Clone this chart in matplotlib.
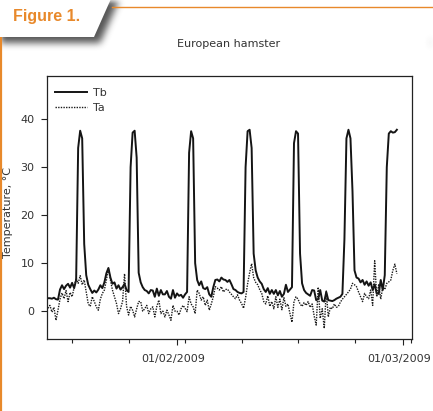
import numpy as np
import pandas as pd
import matplotlib
matplotlib.use('Agg')
import matplotlib.pyplot as plt
import matplotlib.dates as mdates
from matplotlib.patches import Polygon
from matplotlib.lines import Line2D
from matplotlib.path import Path
from matplotlib.transforms import ScaledTranslation

# ── Data: 6-hourly readings starting 16/01/2009 00:00 ──
# Tb = body temperature, Ta = ambient temperature (°C)
tb = [
    2.7, 2.7, 2.6, 2.8,     # 16 Jan
    2.5, 2.4, 4.5, 5.4,
    4.6, 5.3, 5.7, 4.9,
    5.9, 4.8, 6.5, 34.0,
    37.6, 36.0, 14.0, 7.5,  # 20 Jan
    5.5, 4.6, 3.8, 4.3,
    3.9, 4.5, 5.4, 4.8,
    6.0, 7.9, 9.0, 7.0,
    5.7, 6.0, 4.7, 5.4,
    4.5, 5.0, 5.7, 4.4,     # 25 Jan
    4.0, 30.0, 37.2, 37.6,
    32.0, 8.0, 6.0, 5.0,
    4.4, 4.2, 3.7, 4.4,
    4.3, 3.0, 4.7, 3.2,
    4.4, 3.5, 3.5, 4.2,     # 30 Jan
    3.0, 2.6, 4.4, 2.8,
    3.7, 3.2, 3.4, 2.8,     # 01 Feb
    3.5, 4.0, 33.0, 37.5,
    36.0, 10.0, 6.5, 5.4,
    6.2, 4.8, 4.6, 5.0,
    3.5, 3.0, 5.0, 6.5,     # 05 Feb
    6.6, 6.2, 7.0, 6.6,
    6.5, 6.1, 6.5, 5.6,
    4.6, 4.4, 4.0, 3.8,
    3.7, 4.0, 30.0, 37.5,
    37.8, 34.0, 12.0, 8.5,  # 10 Feb
    7.0, 6.2, 5.7, 4.6,
    4.0, 4.8, 3.6, 4.4,
    3.6, 4.4, 3.3, 4.2,
    3.0, 3.6, 5.5, 4.0,
    4.5, 5.0, 35.0, 37.5,   # 15 Feb
    37.0, 12.0, 5.8, 4.4,
    3.8, 3.5, 3.2, 4.4,
    4.3, 2.3, 2.5, 4.4,
    2.2, 2.0, 4.0, 2.3,
    2.2, 2.1, 2.3, 2.6,     # 20 Feb
    2.8, 3.0, 3.6, 15.0,
    36.0, 37.8, 36.0, 25.0,
    8.5, 7.0, 6.8, 6.0,
    6.5, 5.5, 6.2, 5.3,
    6.0, 4.4, 5.6, 3.7,     # 25 Feb
    3.6, 6.5, 4.4, 7.5,
    30.0, 37.0, 37.5, 37.2,
    37.3, 37.8,             # 28 Feb
]

ta = [
    0.6, 1.2, -0.2, 0.8,    # 16 Jan
    -1.9, 0.2, 2.5, 3.8,
    2.6, 4.3, 2.0, 3.9,
    3.0, 5.0, 6.9, 5.8,
    7.4, 5.5, 6.5, 4.0,     # 20 Jan
    1.5, 1.0, 3.0, 2.0,
    0.9, 0.2, 2.5, 3.7,
    4.4, 6.5, 8.9, 6.5,
    4.4, 3.0, 1.6, -0.5,
    0.5, 2.0, 7.8, 1.0,     # 25 Jan
    -0.8, 1.0, 0.2, -1.2,
    0.5, 2.0, 2.0, 0.0,
    0.5, 1.2, -0.5, 0.5,
    0.9, -1.2, 1.0, 2.3,
    -0.5, 0.0, -1.2, 0.2,   # 30 Jan
    -0.8, -1.9, 1.2, 0.0,
    0.0, -0.8, 0.5, 1.2,    # 01 Feb
    0.6, -0.1, 3.0, 1.5,
    0.9, -0.5, 4.4, 3.7,
    2.3, 3.0, 1.2, 2.3,
    0.2, 1.5, 3.0, 5.1,     # 05 Feb
    4.8, 4.4, 5.1, 4.0,
    4.5, 4.6, 4.0, 3.5,
    3.0, 2.6, 3.4, 2.3,
    1.6, 0.6, 2.8, 5.7,
    8.0, 9.9, 7.0, 6.0,     # 10 Feb
    5.5, 4.5, 3.7, 2.0,
    1.5, 3.2, 1.0, 2.0,
    0.5, 3.0, 0.8, 2.5,
    0.3, 2.8, 1.0, 1.5,
    -0.5, -2.3, 2.0, 3.0,   # 15 Feb
    2.5, 1.5, 1.0, 1.8,
    1.2, 2.0, 0.8, 1.5,
    -1.0, -2.9, 5.0, -1.5,
    0.5, -3.6, 4.2, -1.2,
    0.8, 0.5, 1.5, 0.8,     # 20 Feb
    1.0, 1.9, 2.5, 3.0,
    3.5, 4.0, 4.6, 5.8,
    5.5, 5.1, 4.0, 3.0,
    2.0, 3.7, 3.0, 2.6,
    4.4, 1.2, 10.5, 3.0,    # 25 Feb
    5.5, 2.5, 5.0, 4.5,
    5.8, 6.1, 6.5, 8.5,
    9.8, 7.8,               # 28 Feb
]

t = pd.date_range('2009-01-16 00:00', periods=len(tb), freq='6h')

W, H = 433, 411
orange = '#e8892b'
txt = '#333333'

def px(x, y):
    # pixel position (from top-left) -> figure fraction
    return (x / W, 1 - y / H)

def blur(a, r, n=3):
    k = np.ones(2 * r + 1) / (2 * r + 1)
    for _ in range(n):
        a = np.apply_along_axis(lambda v: np.convolve(v, k, mode='same'), 0, a)
        a = np.apply_along_axis(lambda v: np.convolve(v, k, mode='same'), 1, a)
    return a

fig = plt.figure(figsize=(W / 100, H / 100), dpi=100)

# ── Journal "Figure 1." tab with soft drop shadow + orange frame ──
tab = [(-8, -8), (114, -8), (94, 37), (-8, 37)]
sh_w, sh_h = W, 75
yy, xx = np.mgrid[0:sh_h, 0:sh_w]
pts = np.c_[xx.ravel() + 0.5, yy.ravel() + 0.5]
mask = Path([(x + 6, y + 6) for x, y in tab]).contains_points(pts).reshape(yy.shape).astype(float)
# small grey smudge at the right page edge
mask += (((xx - 442) / 11.0) ** 2 + ((yy - 42) / 8.0) ** 2 < 1) * 0.8
alpha = np.clip(blur(mask, 3), 0, 1) * 0.85
rgba = np.zeros((sh_h, sh_w, 4))
rgba[..., :3] = 0.22
rgba[..., 3] = alpha
fig.figimage(rgba, xo=0, yo=H - sh_h, origin='upper', zorder=0)

fig.add_artist(Polygon([px(*p) for p in tab], closed=True, transform=fig.transFigure,
                       fc='white', ec='none', zorder=2))
fig.add_artist(Line2D([112 / W, 1], [1 - 7.5 / H] * 2, transform=fig.transFigure,
                      color=orange, lw=1.0, zorder=1))
fig.add_artist(Line2D([1 / W] * 2, [0, 1 - 38 / H], transform=fig.transFigure,
                      color=orange, lw=1.6, zorder=1))
fig.text(*px(13, 16), 'Figure 1.', color=orange, fontsize=11.5, fontweight='bold',
         family='Liberation Sans', va='center', ha='left', zorder=3)

fig.text(*px(229, 44), 'European hamster', color=txt, fontsize=8,
         ha='center', va='center')

# ── Main axes ──
ax = fig.add_axes([47 / W, 1 - 339 / H, (412 - 47) / W, (339 - 76) / H])
ax.plot(t, tb, color='#141414', lw=1.4, label='Tb', solid_joinstyle='round')
ax.plot(t, ta, color='#1a1a1a', lw=1.0, linestyle=(0, (1, 0.9)), label='Ta')

ax.set_xlim(pd.Timestamp('2009-01-15 21:20'), pd.Timestamp('2009-03-02 03:00'))
ax.set_ylim(-5.8, 49)
ax.set_yticks([0, 10, 20, 30, 40])

ax.xaxis.set_major_locator(mdates.MonthLocator())
ax.xaxis.set_major_formatter(mdates.DateFormatter('%d/%m/%Y'))
ax.xaxis.set_minor_locator(mdates.WeekdayLocator(byweekday=mdates.MO))

ax.tick_params(which='major', direction='out', length=4, width=0.8,
               labelsize=8, labelcolor=txt, color='#222222', pad=5)
ax.tick_params(which='minor', direction='out', length=3, width=0.8, color='#222222')
ax.tick_params(axis='x', which='major', pad=7)

shift = ScaledTranslation(-4 / 100, 0, fig.dpi_scale_trans)
for lbl in ax.get_xticklabels():
    lbl.set_transform(lbl.get_transform() + shift)

for s in ax.spines.values():
    s.set_color('#222222')
    s.set_linewidth(0.9)

ax.set_ylabel('Temperature, °C', fontsize=8, color=txt)
ax.yaxis.set_label_coords((13 - 47) / 365, 0.48)

ax.legend(loc='upper left', bbox_to_anchor=(0.022, 0.955), frameon=False,
          fontsize=8, handlelength=2.9, handletextpad=0.5, labelspacing=0.45,
          borderpad=0, borderaxespad=0, labelcolor=txt)

fig.savefig('out.png', dpi=100)
